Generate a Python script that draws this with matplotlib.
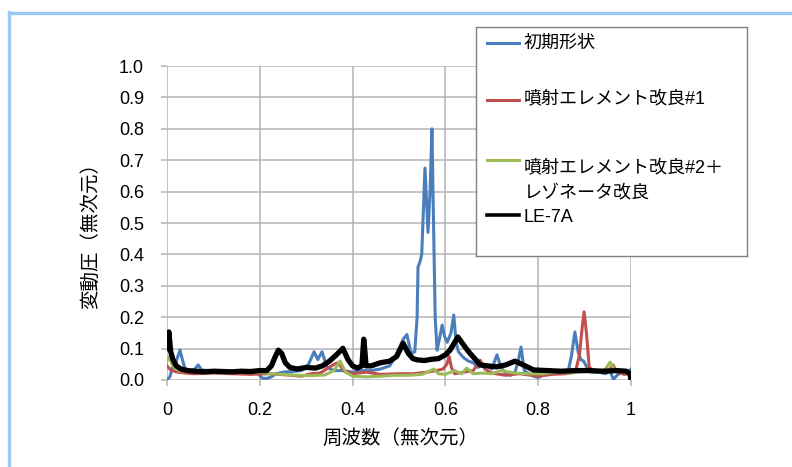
#Pressure fluctuation spectrum
import numpy as np
import matplotlib
matplotlib.use("Agg")
import matplotlib.pyplot as plt
from matplotlib.lines import Line2D

plt.rcParams['font.family'] = ['Liberation Sans', 'Noto Sans CJK JP']

#Data
labels = ["初期形状", "噴射エレメント改良#1", "噴射エレメント改良#2＋\nレゾネータ改良", "LE-7A"]
colors = ["#4a7ebb", "#c0504d", "#9bbb59", "#000000"]
widths = [2.2, 2.2, 2.2, 3.8]

blue_x = [0.0, 0.006, 0.012, 0.02, 0.028, 0.034, 0.04, 0.05, 0.06, 0.067, 0.075, 0.09, 0.12,
          0.15, 0.18, 0.195, 0.205, 0.215, 0.225, 0.235, 0.25, 0.27, 0.29, 0.305, 0.317, 0.325,
          0.334, 0.345, 0.36, 0.38, 0.4, 0.42, 0.44, 0.46, 0.48, 0.49, 0.5, 0.509, 0.517, 0.526,
          0.534, 0.539, 0.541, 0.545, 0.549, 0.556, 0.5625, 0.567, 0.571, 0.575, 0.578, 0.582,
          0.587, 0.593, 0.598, 0.604, 0.612, 0.618, 0.623, 0.628, 0.634, 0.64, 0.65, 0.66, 0.67,
          0.68, 0.69, 0.7, 0.711, 0.72, 0.73, 0.74, 0.75, 0.757, 0.763, 0.77, 0.78, 0.79, 0.8,
          0.81, 0.82, 0.84, 0.855, 0.865, 0.872, 0.879, 0.886, 0.892, 0.898, 0.905, 0.915, 0.93,
          0.945, 0.955, 0.962, 0.97, 0.98, 0.99, 1.0]
blue_y = [0.0, 0.01, 0.04, 0.06, 0.095, 0.06, 0.03, 0.028, 0.035, 0.048, 0.032, 0.03, 0.028,
          0.027, 0.026, 0.022, 0.006, 0.005, 0.01, 0.02, 0.025, 0.027, 0.03, 0.05, 0.09, 0.065,
          0.09, 0.04, 0.03, 0.03, 0.025, 0.03, 0.03, 0.035, 0.045, 0.07, 0.1, 0.13, 0.145, 0.085,
          0.09, 0.2, 0.36, 0.375, 0.4, 0.675, 0.47, 0.6, 0.8, 0.45, 0.2, 0.095, 0.13, 0.175, 0.14,
          0.12, 0.15, 0.207, 0.12, 0.09, 0.08, 0.07, 0.06, 0.055, 0.04, 0.05, 0.045, 0.035, 0.08,
          0.04, 0.02, 0.015, 0.025, 0.06, 0.105, 0.03, 0.02, 0.012, 0.008, 0.015, 0.02, 0.025,
          0.025, 0.03, 0.08, 0.153, 0.09, 0.065, 0.06, 0.04, 0.025, 0.025, 0.02, 0.028, 0.002,
          0.015, 0.025, 0.02, 0.035]

red_x = [0.0, 0.008, 0.02, 0.04, 0.06, 0.1, 0.14, 0.18, 0.22, 0.26, 0.29, 0.31, 0.33, 0.36,
         0.37, 0.38, 0.4, 0.43, 0.46, 0.5, 0.53, 0.56, 0.58, 0.595, 0.603, 0.608, 0.613, 0.62,
         0.64, 0.66, 0.675, 0.685, 0.7, 0.73, 0.76, 0.8, 0.83, 0.86, 0.88, 0.889, 0.895, 0.899,
         0.904, 0.91, 0.92, 0.935, 0.95, 0.961, 0.97, 0.985, 1.0]
red_y = [0.045, 0.032, 0.026, 0.022, 0.02, 0.022, 0.02, 0.018, 0.02, 0.016, 0.012, 0.02, 0.022,
         0.05, 0.055, 0.03, 0.02, 0.025, 0.018, 0.02, 0.02, 0.025, 0.03, 0.035, 0.05, 0.075, 0.04,
         0.02, 0.025, 0.03, 0.063, 0.035, 0.022, 0.015, 0.02, 0.012, 0.018, 0.02, 0.025, 0.08, 0.17,
         0.217, 0.15, 0.04, 0.03, 0.028, 0.025, 0.048, 0.025, 0.018, 0.02]

green_x = [0.0, 0.005, 0.012, 0.025, 0.05, 0.09, 0.13, 0.17, 0.2, 0.22, 0.25, 0.28, 0.31, 0.34,
           0.36, 0.373, 0.385, 0.4, 0.43, 0.46, 0.49, 0.52, 0.55, 0.575, 0.585, 0.6, 0.62, 0.635,
           0.646, 0.66, 0.68, 0.7, 0.72, 0.75, 0.78, 0.81, 0.84, 0.87, 0.9, 0.93, 0.945, 0.955,
           0.965, 0.98, 1.0]
green_y = [0.06, 0.075, 0.045, 0.03, 0.028, 0.026, 0.027, 0.025, 0.025, 0.02, 0.018, 0.015, 0.014,
           0.016, 0.03, 0.06, 0.025, 0.012, 0.01, 0.012, 0.015, 0.015, 0.018, 0.035, 0.02, 0.018,
           0.03, 0.02, 0.038, 0.02, 0.022, 0.02, 0.03, 0.022, 0.02, 0.02, 0.025, 0.022, 0.028, 0.025,
           0.035, 0.057, 0.03, 0.025, 0.022]

black_x = [0.0, 0.004, 0.008, 0.013, 0.02, 0.03, 0.045, 0.06, 0.08, 0.1, 0.12, 0.14, 0.16, 0.18,
           0.2, 0.215, 0.225, 0.232, 0.24, 0.247, 0.255, 0.265, 0.28, 0.3, 0.32, 0.335, 0.35,
           0.365, 0.379, 0.39, 0.4, 0.41, 0.42, 0.424, 0.426, 0.429, 0.44, 0.46, 0.48, 0.495,
           0.509, 0.52, 0.53, 0.54, 0.555, 0.57, 0.585, 0.6, 0.61, 0.62, 0.627, 0.635, 0.645,
           0.653, 0.665, 0.675, 0.69, 0.71, 0.73, 0.75, 0.765, 0.79, 0.82, 0.85, 0.88, 0.91, 0.94,
           0.97, 0.99, 0.998, 1.0]
black_y = [0.1, 0.153, 0.09, 0.064, 0.045, 0.035, 0.03, 0.028, 0.026, 0.028, 0.027, 0.026, 0.028,
           0.027, 0.03, 0.03, 0.045, 0.07, 0.095, 0.085, 0.055, 0.04, 0.035, 0.04, 0.038, 0.045,
           0.06, 0.08, 0.101, 0.065, 0.045, 0.038, 0.045, 0.13, 0.1, 0.045, 0.045, 0.055, 0.06,
           0.075, 0.117, 0.085, 0.068, 0.064, 0.062, 0.066, 0.068, 0.08, 0.095, 0.12, 0.137, 0.12,
           0.1, 0.085, 0.065, 0.048, 0.045, 0.042, 0.048, 0.06, 0.05, 0.032, 0.03, 0.028, 0.03,
           0.03, 0.028, 0.03, 0.028, 0.02, 0.0]

series = [(blue_x, blue_y), (red_x, red_y), (green_x, green_y), (black_x, black_y)]

xticks = [0, 0.2, 0.4, 0.6, 0.8, 1.0]
xticklabels = ["0", "0.2", "0.4", "0.6", "0.8", "1"]
yticks = np.arange(0, 1.01, 0.1)
yticklabels = ["%.1f" % v for v in yticks]

#Figure
W, H = 792, 467
fig = plt.figure(figsize=(W / 100, H / 100), dpi=100)
ax = fig.add_axes([167 / W, 1 - 380 / H, (631 - 167) / W, (380 - 66) / H])

for (sx, sy), c, lw in zip(series, colors, widths):
    ax.plot(sx, sy, color=c, lw=lw, solid_joinstyle='round')

ax.set_xlim(0, 1)
ax.set_ylim(0, 1)
ax.set_xticks(xticks)
ax.set_xticklabels(xticklabels)
ax.set_yticks(yticks)
ax.set_yticklabels(yticklabels)
ax.grid(True, color="#b4b4b4", lw=1.1)
ax.set_axisbelow(True)
for s in ax.spines.values():
    s.set_visible(False)
ax.tick_params(axis='both', length=4.5, color="#b4b4b4", width=1.1, labelsize=13)
ax.tick_params(axis='y', pad=12)
ax.tick_params(axis='x', pad=11)
ax.set_xlabel("周波数（無次元）", fontsize=14)
ax.set_ylabel("変動圧（無次元）", fontsize=14)
ax.xaxis.set_label_coords(0.502, -0.155)
ax.yaxis.set_label_coords(-0.145, 0.475)

#Legend box (drawn like the original)
lax = fig.add_axes([476 / W, 1 - 256 / H, (747 - 476) / W, (256 - 27) / H])
lax.set_xlim(0, 1)
lax.set_ylim(0, 1)
lax.set_xticks([])
lax.set_yticks([])
for s in lax.spines.values():
    s.set_color("#808080")
    s.set_linewidth(1.0)
handle_y = [0.930, 0.681, 0.419, 0.179]
text_y = [0.930, 0.681, 0.419, 0.166]
for lab, c, lw, hy, ty in zip(labels, colors, widths, handle_y, text_y):
    lax.plot([0.04, 0.159], [hy, hy], color=c, lw=min(lw, 2.6))
    lax.text(0.177, ty, lab, fontsize=13, va='top' if "\n" in lab else 'center',
             linespacing=1.55)

#Light blue frame of the page
fig.add_artist(Line2D([9 / W, 9 / W], [0, 1 - 12 / H], color="#9dc8f5", lw=2.4))
fig.add_artist(Line2D([9 / W, 1], [1 - 13 / H, 1 - 13 / H], color="#9dc8f5", lw=2.4))

fig.savefig("out.png", dpi=100)
